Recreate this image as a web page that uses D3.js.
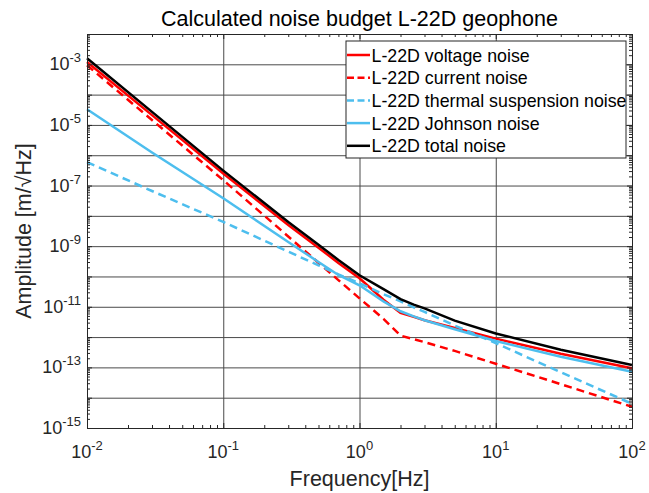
<!DOCTYPE html>
<html>
<head>
<meta charset="utf-8">
<script src="https://cdn.jsdelivr.net/npm/d3@7"></script>
<style>
	html, body { margin: 0; padding: 0; background: #fff; }
	svg { display: block; font-family: "Liberation Sans", Arial, Helvetica, sans-serif; }
</style>
</head>
<body>
<div id="chart"></div>
<script>
const freq = [ 0.01, 0.03, 0.1, 0.3, 0.5, 0.7, 1, 1.5, 2, 2.5, 3, 5, 10, 30, 100 ];

// amplitudes [m/sqrt(Hz)]
const voltageNoise = [ 1.2e-3, 2.1e-5, 2.5e-7, 5.0e-9, 8.9e-10, 2.8e-10, 8.7e-11, 1.7e-11, 6.3e-12, 4.7e-12, 3.6e-12, 2.0e-12, 8.9e-13, 2.8e-13, 9.3e-14 ];
const currentNoise = [ 9.3e-4, 1.45e-5, 1.51e-7, 2.09e-9, 2.82e-10, 7.6e-11, 1.9e-11, 4.0e-12, 1.12e-12, 8.5e-13, 6.8e-13, 3.5e-13, 1.32e-13, 2.8e-14, 5.0e-15 ];
const thermalNoise = [ 5.9e-7, 6.6e-8, 6.3e-9, 6.6e-10, 2.34e-10, 1.17e-10, 6.0e-11, 2.6e-11, 1.51e-11, 9.5e-12, 6.8e-12, 2.4e-12, 6.3e-13, 6.9e-14, 6.3e-15 ];
const johnsonNoise = [ 3.3e-5, 1.23e-6, 3.8e-8, 1.38e-9, 3.0e-10, 1.12e-10, 5.1e-11, 1.51e-11, 7.1e-12, 4.8e-12, 3.6e-12, 1.82e-12, 7.4e-13, 2.24e-13, 7.2e-14 ];
const totalNoise = [ 1.58e-3, 2.7e-5, 3.1e-7, 6.3e-9, 1.12e-9, 3.5e-10, 1.1e-10, 3.8e-11, 1.78e-11, 1.17e-11, 8.9e-12, 3.5e-12, 1.32e-12, 3.8e-13, 1.2e-13 ];

const seriesNames = [ 'L-22D voltage noise', 'L-22D current noise', 'L-22D thermal suspension noise', 'L-22D Johnson noise', 'L-22D total noise' ];

// tick exponents
const xExponents = [ -2, -1, 0, 1, 2 ];
const yExponents = d3.range( -15, -1 );          // gridlines every decade
const yLabelExponents = [ -3, -5, -7, -9, -11, -13, -15 ];

const W = 649, H = 493;
const m = { top: 34, right: 17, bottom: 65, left: 87 };
const pw = W - m.left - m.right, ph = H - m.top - m.bottom;

const svg = d3.select( '#chart' ).append( 'svg' )
	.attr( 'width', W )
	.attr( 'height', H );

const x = d3.scaleLog().domain( [ 1e-2, 1e2 ] ).range( [ 0, pw ] );
const y = d3.scaleLog().domain( [ 1e-15, 1e-2 ] ).range( [ ph, 0 ] );

const g = svg.append( 'g' ).attr( 'transform', `translate(${m.left},${m.top})` );

const xMajor = xExponents.map( e => Math.pow( 10, e ) );
const yMajor = yExponents.map( e => Math.pow( 10, e ) );
const minorOf = ( lo, hi ) => {
	let out = [];
	for ( let e = lo; e < hi; e++ ) {
		for ( let k = 2; k < 10; k++ ) out.push( k * Math.pow( 10, e ) );
	}
	return out;
};
const xMinor = minorOf( -2, 2 );
const yMinor = minorOf( -15, -2 );

// grid
g.append( 'g' )
	.attr( 'transform', `translate(0,${ph})` )
	.call( d3.axisBottom( x ).tickValues( xMajor ).tickSize( -ph ).tickFormat( '' ) )
	.call( s => s.select( '.domain' ).remove() )
	.selectAll( 'line' ).attr( 'stroke', '#4a4a4a' ).attr( 'stroke-width', 1 );
g.append( 'g' )
	.call( d3.axisLeft( y ).tickValues( yMajor ).tickSize( -pw ).tickFormat( '' ) )
	.call( s => s.select( '.domain' ).remove() )
	.selectAll( 'line' ).attr( 'stroke', '#4a4a4a' ).attr( 'stroke-width', 1 );

// curves
const line = d3.line()
	.x( d => x( d[0] ) )
	.y( d => y( d[1] ) );

const series = [
	{ values: voltageNoise, color: '#ff0000', dash: null },
	{ values: currentNoise, color: '#ff0000', dash: '8,5' },
	{ values: thermalNoise, color: '#4dbeee', dash: '8,5' },
	{ values: johnsonNoise, color: '#4dbeee', dash: null },
	{ values: totalNoise, color: '#000000', dash: null }
];

g.append( 'g' )
	.selectAll( 'path' )
	.data( series )
	.enter()
	.append( 'path' )
	.attr( 'fill', 'none' )
	.attr( 'stroke', d => d.color )
	.attr( 'stroke-width', 2.5 )
	.attr( 'stroke-dasharray', d => d.dash )
	.attr( 'd', d => line( freq.map( ( f, i ) => [ f, d.values[i] ] ) ) );

// ticks on all four sides, pointing inward
const tickAxis = ( axis, scale, major, minor, transform ) => {
	let a = g.append( 'g' ).attr( 'transform', transform );
	a.call( axis( scale ).tickValues( major ).tickSize( -5 ).tickFormat( '' ) );
	a.append( 'g' ).call( axis( scale ).tickValues( minor ).tickSize( -3 ).tickFormat( '' ) )
		.select( '.domain' ).remove();
	a.selectAll( 'line' ).attr( 'stroke', '#262626' );
	a.select( '.domain' ).attr( 'stroke', '#262626' );
};
tickAxis( d3.axisBottom, x, xMajor, xMinor, `translate(0,${ph})` );
tickAxis( d3.axisTop, x, xMajor, xMinor, null );
tickAxis( d3.axisLeft, y, yMajor, yMinor, null );
tickAxis( d3.axisRight, y, yMajor, yMinor, `translate(${pw},0)` );

// tick labels 10^n
const xl = g.append( 'g' ).attr( 'fill', '#262626' );
xExponents.forEach( e => {
	let t = xl.append( 'text' )
		.attr( 'x', x( Math.pow( 10, e ) ) )
		.attr( 'y', ph + 30 )
		.attr( 'text-anchor', 'middle' )
		.attr( 'font-size', '18px' );
	t.append( 'tspan' ).text( '10' );
	t.append( 'tspan' ).attr( 'dy', -8 ).attr( 'font-size', '13px' ).text( e );
} );
const yl = g.append( 'g' ).attr( 'fill', '#262626' );
yLabelExponents.forEach( e => {
	let t = yl.append( 'text' )
		.attr( 'x', -6 )
		.attr( 'y', y( Math.pow( 10, e ) ) + 6 )
		.attr( 'text-anchor', 'end' )
		.attr( 'font-size', '18px' );
	t.append( 'tspan' ).text( '10' );
	t.append( 'tspan' ).attr( 'dy', -8 ).attr( 'font-size', '13px' ).text( e );
} );

// legend
const lg = g.append( 'g' ).attr( 'transform', 'translate(259,7)' );
lg.append( 'rect' )
	.attr( 'x', 0 ).attr( 'y', 0 )
	.attr( 'width', 280 ).attr( 'height', 117 )
	.attr( 'fill', '#fff' )
	.attr( 'stroke', '#262626' )
	.attr( 'stroke-width', 1 );
const row = lg.selectAll( '.row' )
	.data( series )
	.enter()
	.append( 'g' )
	.attr( 'transform', ( d, i ) => `translate(0,${14 + i * 22.7})` );
row.append( 'line' )
	.attr( 'x1', 1 ).attr( 'x2', 24 )
	.attr( 'stroke', d => d.color )
	.attr( 'stroke-width', 2.5 )
	.attr( 'stroke-dasharray', d => d.dash ? '7,3.5' : null );
row.append( 'text' )
	.attr( 'x', 25.5 )
	.attr( 'y', 6.5 )
	.attr( 'font-size', '17.8px' )
	.attr( 'fill', '#000' )
	.text( ( d, i ) => seriesNames[i] );

// title and axis labels
svg.append( 'text' )
	.attr( 'x', m.left + pw / 2 )
	.attr( 'y', 26 )
	.attr( 'text-anchor', 'middle' )
	.attr( 'font-size', '21.5px' )
	.attr( 'fill', '#000' )
	.text( 'Calculated noise budget L-22D geophone' );
svg.append( 'text' )
	.attr( 'x', m.left + pw / 2 )
	.attr( 'y', 486 )
	.attr( 'text-anchor', 'middle' )
	.attr( 'font-size', '21.5px' )
	.attr( 'fill', '#262626' )
	.text( 'Frequency[Hz]' );
svg.append( 'text' )
	.attr( 'transform', `translate(31,${m.top + ph / 2}) rotate(-90)` )
	.attr( 'text-anchor', 'middle' )
	.attr( 'font-size', '21.5px' )
	.attr( 'fill', '#262626' )
	.text( 'Amplitude [m/√Hz]' );
</script>
</body>
</html>
